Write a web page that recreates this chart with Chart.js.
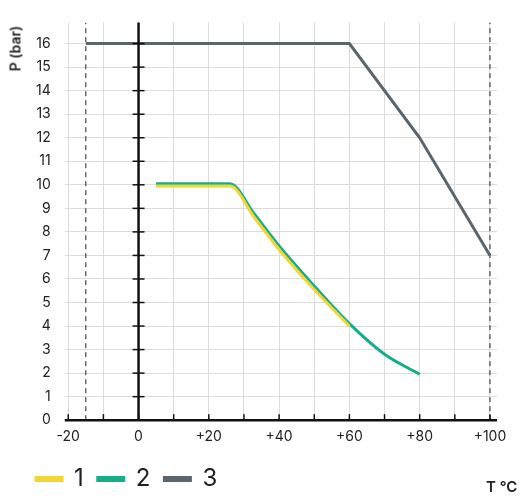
<!DOCTYPE html>
<html><head><meta charset="utf-8">
<script src="https://cdn.jsdelivr.net/npm/chart.js@4"></script>
<style>
body{margin:0;background:#fff;font-family:Inter,sans-serif}
#wrap{position:relative;width:523px;height:501px}
#ytitle{position:absolute;left:-20px;top:40px;transform:rotate(-90deg);font-size:14px;font-weight:600;color:#222;width:70px;text-align:center}
#xtitle{position:absolute;left:486px;top:477px;font-size:15px;font-weight:600;color:#222}
</style></head><body>
<div id="wrap"><canvas id="c" width="523" height="501"></canvas>
<div id="ytitle">P (bar)</div><div id="xtitle">T °C</div></div>
<script>
const series1 = [[5,9.95],[26,9.95],[33,8.6],[40,7.25],[50,5.55],[60,4.0]];
const series2 = [[5,10.05],[26,10.05],[33,8.75],[40,7.4],[50,5.7],[60,4.1],[70,2.8],[80,1.95]];
const series3 = [[-15,16],[60,16],[80,12],[100,7]];
const xTicks = [-20,-10,0,10,20,30,40,50,60,70,80,90,100];
const yTicks = [0,1,2,3,4,5,6,7,8,9,10,11,12,13,14,15,16];
const limitLines = [-15,100];
const colors = ["#f2d637","#17ad8b","#5a656d"];

const pts = (a) => a.map(p => ({x:p[0], y:p[1]}));
const datasets = [series1,series2,series3].map((s,i) => ({
  label: String(i+1), data: pts(s), borderColor: colors[i], backgroundColor: colors[i],
  borderWidth: 3, pointRadius: 0, tension: i < 2 ? 0.15 : 0, cubicInterpolationMode: i < 2 ? "monotone" : "default"
}));
limitLines.forEach(x => datasets.push({
  label: "", data: [{x:x,y:0},{x:x,y:16.9}], borderColor: "#222", borderWidth: 1,
  borderDash: [5,4], pointRadius: 0
}));

const axisTicks = {
  id: "axisTicks",
  afterDatasetsDraw(chart) {
    const {ctx, scales: {x, y}} = chart;
    ctx.save();
    ctx.strokeStyle = "#111"; ctx.lineWidth = 1.5;
    const y0 = y.getPixelForValue(0), x0 = x.getPixelForValue(0);
    xTicks.forEach(v => { const px = x.getPixelForValue(v); ctx.beginPath(); ctx.moveTo(px,y0); ctx.lineTo(px,y0-6); ctx.stroke(); });
    yTicks.forEach(v => { const py = y.getPixelForValue(v); ctx.beginPath(); ctx.moveTo(x0-6,py); ctx.lineTo(x0+6,py); ctx.stroke(); });
    ctx.lineWidth = 2.5;
    ctx.beginPath(); ctx.moveTo(x0, y.top); ctx.lineTo(x0, y0); ctx.stroke();
    ctx.beginPath(); ctx.moveTo(x.left, y0); ctx.lineTo(x.right, y0); ctx.stroke();
    ctx.restore();
  }
};

new Chart(document.getElementById("c"), {
  type: "line",
  data: { datasets },
  plugins: [axisTicks],
  options: {
    responsive: false, animation: false,
    layout: { padding: { left: 22, right: 26, top: 15, bottom: 0 } },
    plugins: {
      tooltip: { enabled: false },
      legend: { position: "bottom", align: "start",
        labels: { filter: (l) => l.text !== "", boxWidth: 26, boxHeight: 3, padding: 14,
          color: "#222", font: { family: "Inter", size: 24 } } }
    },
    scales: {
      x: { type: "linear", min: -21, max: 102,
        afterBuildTicks: (s) => { s.ticks = xTicks.map(v => ({value: v})); },
        grid: { color: "#dcdcdc", drawTicks: false }, border: { display: false },
        ticks: { padding: 8, color: "#222", maxRotation: 0, autoSkip: false, font: { family: "Inter", size: 14 },
          callback: (v) => v % 20 !== 0 ? "" : (v > 0 ? "+" + v : String(v)) } },
      y: { min: 0, max: 16.9,
        afterBuildTicks: (s) => { s.ticks = yTicks.map(v => ({value: v})); },
        grid: { color: "#dcdcdc", drawTicks: false }, border: { display: false },
        ticks: { padding: 14, color: "#222", font: { family: "Inter", size: 14 } } }
    }
  }
});
</script></body></html>
